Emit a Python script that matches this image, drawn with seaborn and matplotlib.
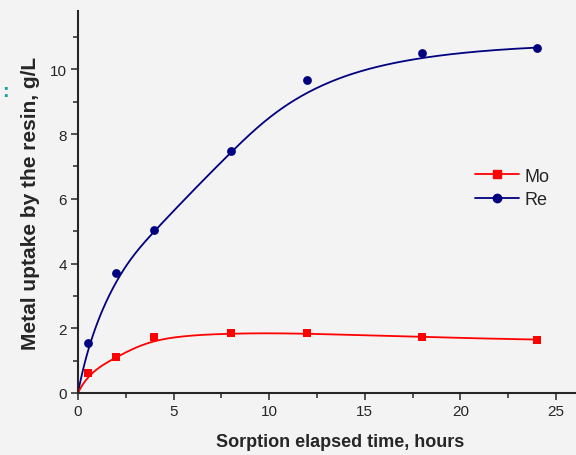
import numpy as np
import pandas as pd
import matplotlib
matplotlib.use("Agg")
import matplotlib.pyplot as plt
from matplotlib.lines import Line2D
from matplotlib.ticker import MultipleLocator
import seaborn as sns

# data
hours = [0, 0.5, 2, 4, 8, 12, 18, 24]
mo = [0, 0.62, 1.10, 1.73, 1.85, 1.85, 1.72, 1.65]
re = [0, 1.55, 3.70, 5.02, 7.47, 9.68, 10.50, 10.67]


def bspline(xs, ys, n=400):
    # clamped cubic B-spline using the points as control points
    P = np.column_stack([xs, ys]).astype(float)
    k = 3
    m = len(P)
    knots = np.concatenate([[0] * k, np.arange(m - k + 1), [m - k] * k]).astype(float)
    out = []
    for t in np.linspace(0, m - k, n):
        i = np.searchsorted(knots, t, side="right") - 1
        i = min(i, m - 1)
        d = [P[j + i - k].copy() for j in range(k + 1)]
        for r in range(1, k + 1):
            for j in range(k, r - 1, -1):
                a = (t - knots[j + i - k]) / (knots[j + 1 + i - r] - knots[j + i - k])
                d[j] = (1 - a) * d[j - 1] + a * d[j]
        out.append(d[k])
    out = np.array(out)
    return out[:, 0], out[:, 1]


sns.set_style("ticks")
plt.rcParams["font.family"] = ["Liberation Sans", "DejaVu Sans"]

fig = plt.figure(figsize=(5.76, 4.56), dpi=100, facecolor="#f3f3f3")
ax = fig.add_axes([78 / 576, 62 / 456, 524 / 576, 382 / 456])
ax.set_facecolor("#f3f3f3")

red = "#ff0000"
navy = "#000080"

pts = pd.DataFrame({"t": hours, "Mo": mo, "Re": re})
for col, color, mk in [("Re", navy, "o"), ("Mo", red, "s")]:
    cx, cy = bspline(pts["t"], pts[col])
    curve = pd.DataFrame({"t": cx, "v": cy})
    sns.lineplot(data=curve, x="t", y="v", sort=False, estimator=None,
                 color=color, lw=1.3, ax=ax)
    sns.scatterplot(data=pts.iloc[1:], x="t", y=col, marker=mk, color=color,
                    s=40, edgecolor=color, linewidth=0, ax=ax, zorder=3)

ax.set_xlim(0, 27.4)
ax.set_ylim(0, 11.8)
ax.xaxis.set_major_locator(MultipleLocator(5))
ax.xaxis.set_minor_locator(MultipleLocator(2.5))
ax.yaxis.set_major_locator(MultipleLocator(2))
ax.yaxis.set_minor_locator(MultipleLocator(1))
ax.tick_params(which="major", length=5, width=1.1, labelsize=11, pad=3)
ax.tick_params(which="minor", length=3.5, width=1.1)
for s in ["top", "right"]:
    ax.spines[s].set_visible(False)
for s in ["left", "bottom"]:
    ax.spines[s].set_linewidth(1.5)

ax.set_xlabel("Sorption elapsed time, hours", fontsize=13, fontweight="bold", labelpad=11)
ax.set_ylabel("Metal uptake by the resin, g/L", fontsize=15, fontweight="bold", labelpad=7)

handles = [
    Line2D([], [], color=red, marker="s", markersize=6, lw=1.3),
    Line2D([], [], color=navy, marker="o", markersize=6, lw=1.3),
]
ax.legend(handles, ["Mo", "Re"], frameon=False, fontsize=13,
          loc="upper left", bbox_to_anchor=(0.758, 0.59), borderpad=0,
          borderaxespad=0, handlelength=2.4, handletextpad=0.35,
          labelspacing=0.35)

fig.text(0.003, 0.788, ":", color="#1a9a9a", fontsize=14, fontweight="bold")

fig.savefig("out.png", dpi=100, facecolor=fig.get_facecolor())
